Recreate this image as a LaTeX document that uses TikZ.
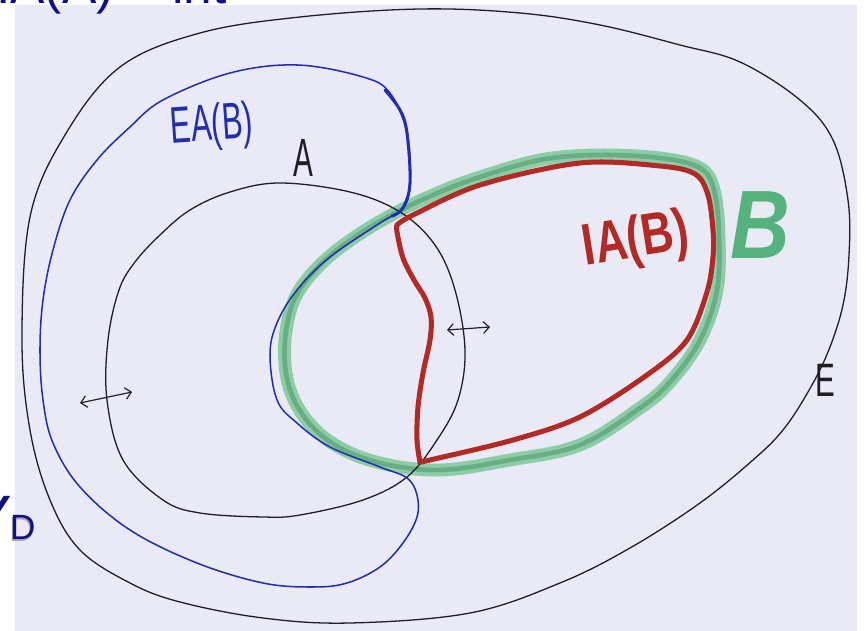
\documentclass[tikz,border=0pt]{standalone}
\usepackage{fontspec}
\setmainfont{Liberation Sans}
\usetikzlibrary{arrows.meta}
\definecolor{paper}{RGB}{233,234,245}
\definecolor{bluepen}{RGB}{35,45,175}
\definecolor{redpen}{RGB}{178,42,38}
\definecolor{greenlight}{RGB}{140,205,168}
\definecolor{greendark}{RGB}{40,115,65}
\definecolor{greenB}{RGB}{85,178,125}
\definecolor{navy}{RGB}{15,15,135}
\definecolor{pencil}{RGB}{30,30,35}
\tikzset{
  pencilline/.style={draw=pencil, line width=1.1pt},
  blueline/.style={draw=bluepen, line width=1.3pt},
  redline/.style={draw=redpen, line width=4.3pt},
  greenwide/.style={draw=greenlight, line width=11pt},
  greennarrow/.style={draw=greendark, line width=4pt, opacity=0.35},
  lbl/.style={inner sep=0pt, anchor=center},
  dblarrow/.style={draw=pencil, line width=1pt, {Straight Barb[length=5pt,width=10pt]}-{Straight Barb[length=5pt,width=10pt]}}
}
\begin{document}
\begin{tikzpicture}[x=0.3mm,y=-0.3mm, line cap=round, line join=round]
\useasboundingbox (0,0) rectangle (865,631);
\fill[white] (0,0) rectangle (865,631);
\fill[paper] (15,5) rectangle (857,631);

% set B (green marker)
\draw[greenwide] plot[smooth cycle, tension=0.6] coordinates {
 (397,212) (440,192) (480,177) (540,160) (597,155) (660,158) (700,168)
 (714,190) (719,235) (717,290) (700,340) (670,382) (640,408) (580,445)
 (510,460) (440,470) (380,463) (335,445) (305,418) (288,383) (285,340)
 (295,298) (320,265) (355,237)};
\draw[greennarrow] plot[smooth cycle, tension=0.6] coordinates {
 (397,212) (440,192) (480,177) (540,160) (597,155) (660,158) (700,168)
 (714,190) (719,235) (717,290) (700,340) (670,382) (640,408) (580,445)
 (510,460) (440,470) (380,463) (335,445) (305,418) (288,383) (285,340)
 (295,298) (320,265) (355,237)};

% outer set E
\draw[pencilline] plot[smooth cycle, tension=0.6] coordinates {
 (22,340) (30,217) (65,135) (120,67) (200,33) (300,17) (420,9) (520,13)
 (600,25) (680,45) (740,62) (800,100) (833,140) (848,200) (849,255)
 (843,305) (828,352) (808,392) (783,430) (753,460) (700,503) (630,548)
 (560,583) (470,613) (350,623) (263,618) (180,602) (130,583) (80,550)
 (50,500) (30,430)};

% set A
\draw[pencilline] plot[smooth cycle, tension=0.6] coordinates {
 (280,183) (350,192) (400,212) (435,245) (455,290) (465,350) (458,400)
 (437,440) (407,477) (363,500) (300,515) (263,517) (200,513) (163,500)
 (123,460) (107,400) (108,340) (119,290) (135,262) (160,235) (190,210)
 (230,192)};

% EA(B) (blue)
\draw[blueline] plot[smooth cycle, tension=0.6] coordinates {
 (40,350) (43,300) (53,250) (70,200) (97,160) (130,127) (163,100) (230,73)
 (297,65) (363,77) (390,93) (407,133) (410,183) (403,208) (380,223)
 (330,257) (297,290) (277,323) (270,355) (277,400) (297,423) (330,447)
 (380,467) (407,478) (417,495) (417,517) (403,543) (380,567) (347,583)
 (313,587) (263,583) (197,563) (130,530) (80,487) (53,443) (43,400)};
\draw[draw=bluepen, line width=2.6pt] plot[smooth, tension=0.6] coordinates {
 (385,90) (400,110) (407,133) (410,183) (403,208) (392,216)};

% IA(B) (red)
\draw[redline] plot[smooth, tension=0.55] coordinates {
 (397,225) (413,215) (480,185) (580,163) (660,166) (695,174) (708,195)
 (713,230) (713,257) (707,292) (687,340) (647,375) (580,417) (513,440)
 (430,460) (420,462)}
 -- plot[smooth, tension=0.55] coordinates {
 (420,462) (417,440) (418,407) (423,373) (430,340) (431,317) (425,298)
 (414,280) (403,258) (397,232) (397,225)} -- cycle;

% double arrows
\coordinate (la1) at (80,403);
\coordinate (la2) at (132,392);
\coordinate (ma1) at (447,330);
\coordinate (ma2) at (490,327);
\draw[dblarrow] (la1) -- (la2);
\draw[dblarrow] (ma1) -- (ma2);

% labels
\node[lbl, text=bluepen, rotate=4] (eab) at (212,127)
  {\fontsize{44}{44}\selectfont\scalebox{0.6}[1]{EA(B)}};
\node[lbl, text=pencil] (la) at (303,158)
  {\fontsize{46}{46}\selectfont\scalebox{0.55}[1]{A}};
\node[lbl, text=pencil] (le) at (825,380)
  {\fontsize{40}{40}\selectfont\scalebox{0.63}[1]{E}};
\node[lbl, text=redpen, rotate=9] (iab) at (636,242)
  {\fontsize{50}{50}\selectfont\bfseries\scalebox{0.76}[1]{IA(B)}};
\node[lbl, text=greenB] (lb) at (760,225)
  {\fontsize{83}{83}\selectfont\bfseries\itshape\scalebox{0.85}[1]{B}};

% cut-off slide texts
\node[inner sep=0pt, anchor=north east, text=navy] (ly) at (12,496)
  {\fontsize{56}{56}\selectfont Y};
\node[inner sep=0pt, anchor=north west, text=gray!70] (ldsh) at (9,517)
  {\fontsize{30}{30}\selectfont D};
\node[inner sep=0pt, anchor=north west, text=navy] (ld) at (10,515.5)
  {\fontsize{30}{30}\selectfont D};
\node[inner sep=0pt, anchor=base west, text=navy] (ltop) at (-4,4)
  {\fontsize{44}{44}\selectfont IA(A) = int};
\end{tikzpicture}
\end{document}
